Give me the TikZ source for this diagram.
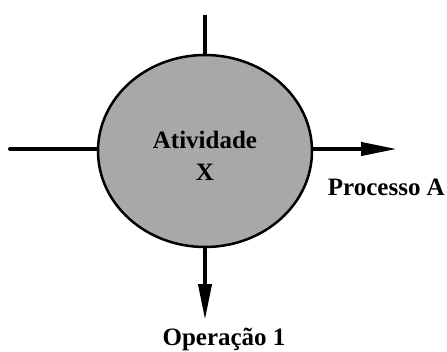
\documentclass[tikz,border=0pt]{standalone}
\usepackage{fontspec}
\setmainfont{Liberation Serif}
\usetikzlibrary{arrows.meta,shapes.geometric}
\definecolor{actgray}{HTML}{A8A8A8}
\begin{document}
\begin{tikzpicture}[x=1pt,y=-1pt,
  conn/.style={line width=4pt},
  arr/.style={line width=4pt,-{Triangle[length=36pt,width=13pt]}},
  lbl/.style={font=\bfseries\fontsize{25}{27}\selectfont,inner sep=0pt}]
\useasboundingbox (0,0) rectangle (447,351);
\node[ellipse,draw,line width=2.5pt,fill=actgray,minimum width=214pt,minimum height=192pt,inner sep=0pt] (act) at (205,151) {};
\node[lbl] (t1) at (205,140) {Atividade};
\node[lbl] (t2) at (205,172) {X};
\coordinate (top) at (205,15);
\coordinate (left) at (10,149);
\coordinate (right) at (397,149);
\coordinate (bot) at (205,320);
\draw[conn] (top) -- (act.north);
\draw[conn,line cap=round] (left) -- (left -| act.west);
\draw[arr] (right -| act.east) -- (right);
\draw[arr] (act.south) -- (bot);
\node[lbl,anchor=east] (pa) at (445,187) {Processo A};
\node[lbl] (op) at (224,339) {Operação 1};
\end{tikzpicture}
\end{document}
